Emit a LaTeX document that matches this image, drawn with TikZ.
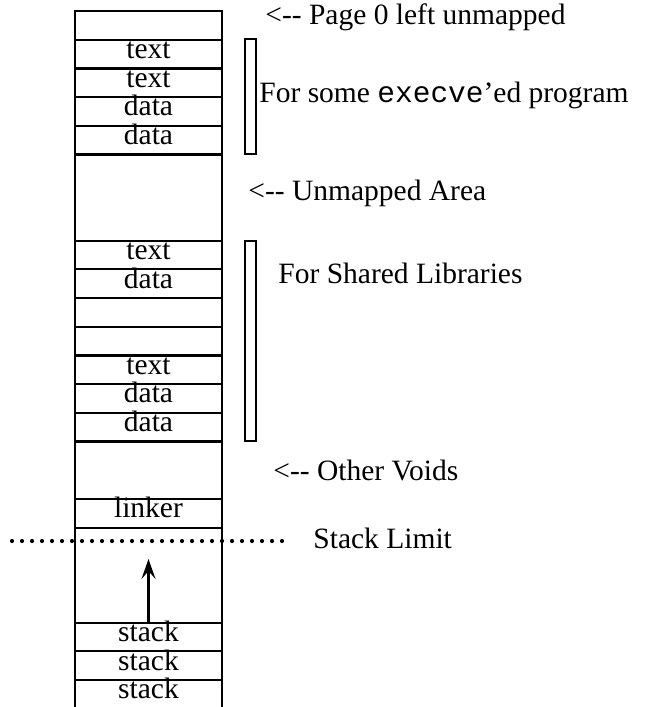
\documentclass[tikz,border=0pt]{standalone}
\usepackage{fontspec}
\setmainfont{Liberation Serif}
\setmonofont{Liberation Mono}
\usetikzlibrary{arrows.meta, positioning}

\begin{document}
\begin{tikzpicture}[x=0.5pt, y=-0.5pt, node distance=0pt, font=\fontsize{14.75}{17}\selectfont]
        % styles for the memory map
        \tikzstyle{cell} = [rectangle, draw=black, line width=1.1pt, minimum width=73.5pt, minimum height=14.35pt, inner sep=0pt, outer sep=0pt, text height=0.69em, text depth=0.25em, text centered]
        \tikzstyle{note} = [anchor=base west, inner sep=0pt]
        \tikzstyle{bracket} = [draw=black, line width=0.9pt]
        \tikzstyle{arrow} = [line width=1.3pt, -{Stealth[length=10pt, width=7pt, inset=4pt]}]
        \tikzstyle{limit} = [line width=2.1pt, line cap=round, dash pattern=on 0pt off 5pt]

        \useasboundingbox (0,0) rectangle (649,707);

        % page 0
        \node (page0) [cell, anchor=north] at (148.5,11) {};

        % execve'ed program
        \node (ptext1) [cell, below=of page0] {text};
        \node (ptext2) [cell, below=of ptext1] {text};
        \node (pdata1) [cell, below=of ptext2] {data};
        \node (pdata2) [cell, below=of pdata1] {data};

        % unmapped area
        \node (unmapped) [cell, below=of pdata2, minimum height=43.05pt] {};

        % shared libraries
        \node (ltext1) [cell, below=of unmapped] {text};
        \node (ldata1) [cell, below=of ltext1] {data};
        \node (lfree1) [cell, below=of ldata1] {};
        \node (lfree2) [cell, below=of lfree1] {};
        \node (ltext2) [cell, below=of lfree2] {text};
        \node (ldata2) [cell, below=of ltext2] {data};
        \node (ldata3) [cell, below=of ldata2] {data};

        % other voids, linker, stack
        \node (voids) [cell, below=of ldata3, minimum height=28.7pt] {};
        \node (linker) [cell, below=of voids] {linker};
        \node (growth) [cell, below=of linker, minimum height=47.5pt] {};
        \node (stack1) [cell, below=of growth] {stack};
        \node (stack2) [cell, below=of stack1] {stack};
        \node (stack3) [cell, below=of stack2] {stack};

        % brackets
        \draw [bracket] (245,39) rectangle (256,154);
        \draw [bracket] (245,241) rectangle (256,441);

        % labels
        \node (lblpage0) [note] at (265,24) {<-{}- Page 0 left unmapped};
        \node (lblexec) [note] at (259,102) {For some \texttt{execve}'ed program};
        \node (lblunmap) [note] at (248,200) {<-{}- Unmapped Area};
        \node (lblshared) [note] at (278,283) {For Shared Libraries};
        \node (lblvoids) [note] at (273,480) {<-{}- Other Voids};
        \node (lbllimit) [note] at (313,548) {Stack Limit};

        % stack limit and growth
        \coordinate (limitL) at (12,541);
        \coordinate (limitR) at (290,541);
        \draw [limit] (limitL) -- (limitR);
        \coordinate (growtop) at (148.5,559);
        \draw [arrow] (stack1.north) -- (growtop);

    \end{tikzpicture}
\end{document}
